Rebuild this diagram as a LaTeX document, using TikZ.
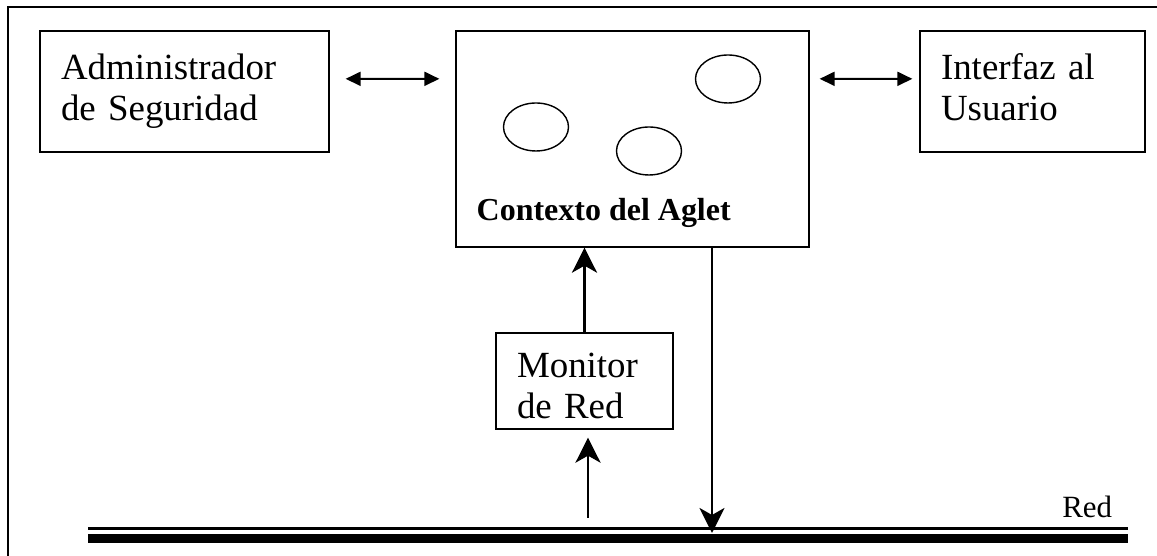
\documentclass[tikz,border=0pt]{standalone}
\usepackage{fontspec}
\setmainfont{Liberation Serif}
\usepackage{tikz}
\usetikzlibrary{shapes, arrows.meta, positioning}
\tikzstyle{box} = [rectangle, draw, line width=0.75pt, align=left, inner xsep=0.42cm, font=\fontsize{21}{23.4}\selectfont]
\tikzstyle{agent} = [ellipse, draw, line width=0.8pt, minimum width=1.3cm, minimum height=0.96cm]
\tikzstyle{link} = [draw, line width=1.1pt, {Triangle[length=0.3cm, width=0.28cm]}-{Triangle[length=0.3cm, width=0.28cm]}]
\tikzstyle{flow} = [draw, line width=1.7pt, -{Stealth[length=0.5cm, width=0.5cm, inset=0.14cm]}]

\begin{document}
\begin{tikzpicture}
			\useasboundingbox (0, 0) rectangle (23.14, 11.12);
			\draw [line width=0.85pt] (0.16, 0) -- (0.16, 10.98) -- (23.14, 10.98);

			\node [box, text width=4.94cm, minimum height=2.42cm] (admin) at (3.69, 9.29) {\strut Administrador\\\strut de Seguridad};
			\node [box, minimum width=7.06cm, minimum height=4.32cm] (ctx) at (12.65, 8.34) {};
			\node [box, text width=3.66cm, minimum height=2.42cm] (iface) at (20.65, 9.29) {\strut Interfaz al\\\strut Usuario};
			\node [box, text width=2.70cm, minimum height=1.92cm] (monitor) at (11.69, 3.50) {\rule{0pt}{0.7cm}Monitor\\de Red};

			\node [agent] (agletA) at (10.72, 8.58) {};
			\node [agent] (agletB) at (12.98, 8.10) {};
			\node [agent] (agletC) at (14.56, 9.54) {};
			\node [anchor=base west, inner sep=0pt, font=\bfseries\fontsize{18.2}{21}\selectfont] (ctxname) at ([xshift=0.42cm, yshift=0.54cm]ctx.south west) {Contexto del Aglet};

			\coordinate (netL) at (1.76, 0.55);
			\coordinate (netR) at (22.56, 0.55);
			\draw [line width=0.055cm] (netL) -- (netR);
			\draw [line width=0.186cm] ([yshift=-0.2cm]netL) -- ([yshift=-0.2cm]netR);
			\node [anchor=base west, inner sep=0pt, font=\fontsize{17.6}{20}\selectfont] (netname) at (21.24, 0.76) {Red};

			\coordinate (tap) at (11.76, 0.76);
			\coordinate (drop) at (14.24, 0.46);

			\path [link, shorten <=0.32cm, shorten >=0.32cm] ([yshift=-0.97cm]admin.north east) -- ([yshift=-0.97cm]ctx.north west);
			\path [link, shorten <=0.2cm, shorten >=0.14cm] ([yshift=-0.97cm]ctx.north east) -- ([yshift=-0.97cm]iface.north west);
			\path [flow] (monitor.north) -- (monitor.north |- ctx.south);
			\path [flow, shorten >=0.16cm] (tap) -- (tap |- monitor.south);
			\path [flow] (drop |- ctx.south) -- (drop);
		\end{tikzpicture}
\end{document}
